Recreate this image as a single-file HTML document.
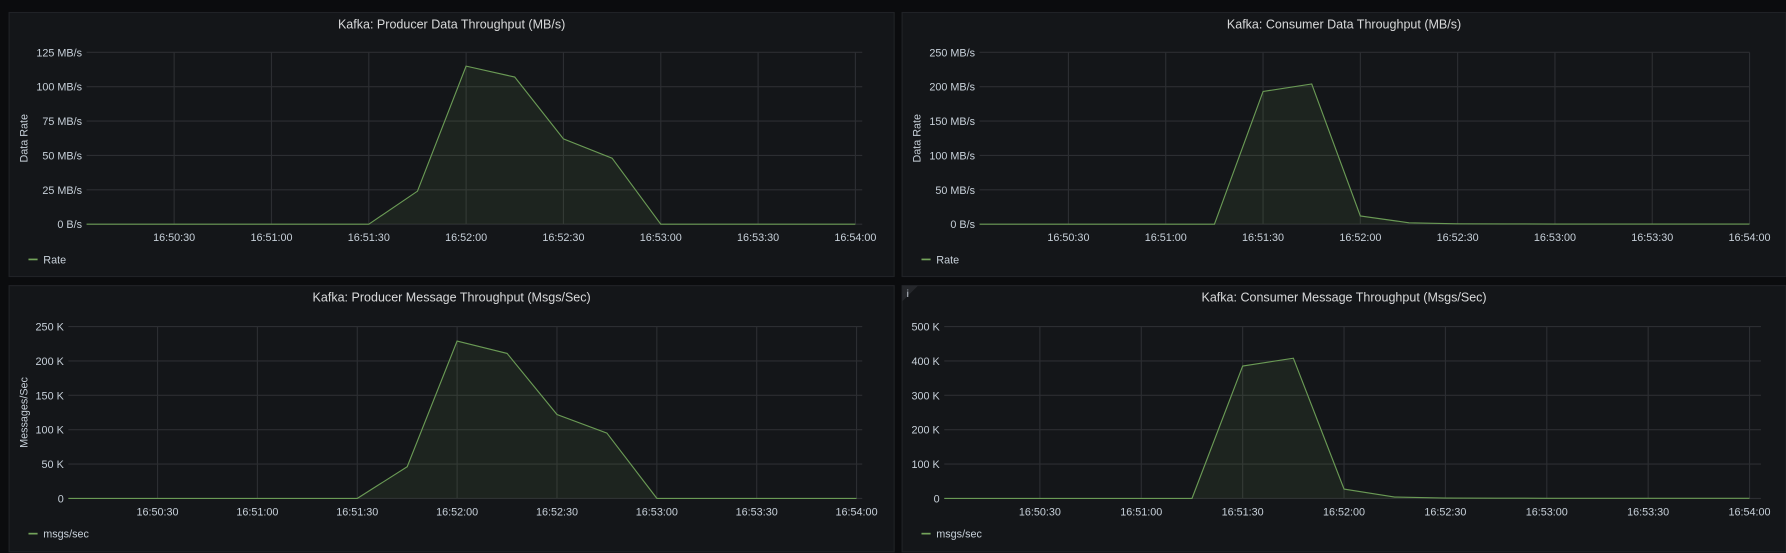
<!DOCTYPE html>
<html><head><meta charset="utf-8"><style>
html,body{margin:0;padding:0;background:#0b0c0e;}
svg{display:block;font-family:"Liberation Sans",sans-serif;}
</style></head><body>
<svg id="root" width="1786" height="553" viewBox="0 0 1568 486" preserveAspectRatio="none">
<rect x="0" y="0" width="1568" height="486" fill="#0b0c0e"/>
</svg>
<script>
const NS="http://www.w3.org/2000/svg";
const root=document.getElementById('root');
// ---- data ----
const times=[0,15,30,45,60,75,90,105,120,135,150,165,180,195,210,225,240];
const prodRate=[0,0,0,0,0,0,0,24,115,107,62,48,0,0,0,0,0];
const consRate=[0,0,0,0,0,0,193,204,12,2,0.5,0.3,0.2,0.2,0.2,0.2,0.2];
const prodMsgs=[0,0,0,0,0,0,0,46,229,211,122,95,0,0,0,0,0];
const consMsgs=[0,0,0,0,0,0,385,408,27,4,1,0.5,0.3,0.3,0.3,0.3,0.3];
const xTickTimes=[30,60,90,120,150,180,210,240];
const xTickLabels=["16:50:30","16:51:00","16:51:30","16:52:00","16:52:30","16:53:00","16:53:30","16:54:00"];
const yTicksRate1=[0,25,50,75,100,125];
const yLabelsRate1=["0 B/s","25 MB/s","50 MB/s","75 MB/s","100 MB/s","125 MB/s"];
const yTicksRate2=[0,50,100,150,200,250];
const yLabelsRate2=["0 B/s","50 MB/s","100 MB/s","150 MB/s","200 MB/s","250 MB/s"];
const yTicksMsg1=[0,50,100,150,200,250];
const yLabelsMsg1=["0","50 K","100 K","150 K","200 K","250 K"];
const yTicksMsg2=[0,100,200,300,400,500];
const yLabelsMsg2=["0","100 K","200 K","300 K","400 K","500 K"];

function el(tag,attrs,parent){const e=document.createElementNS(NS,tag);for(const k in attrs)e.setAttribute(k,attrs[k]);(parent||root).appendChild(e);return e;}

const panels=[
 {name:'producer-data-throughput',title:'Kafka: Producer Data Throughput (MB/s)',px:8,py:11,pw:777,ph:232,l:76,r:757,xr:751,xmin:3,top:46,bot:197,ymax:125,yt:yTicksRate1,yl:yLabelsRate1,vals:prodRate,axis:'Data Rate',legend:'Rate'},
 {name:'consumer-data-throughput',title:'Kafka: Consumer Data Throughput (MB/s)',px:792,py:11,pw:776,ph:232,l:860,r:1536,xr:1536,xmin:2.6,top:46,bot:197,ymax:250,yt:yTicksRate2,yl:yLabelsRate2,vals:consRate,axis:'Data Rate',legend:'Rate'},
 {name:'producer-message-throughput',title:'Kafka: Producer Message Throughput (Msgs/Sec)',px:8,py:251,pw:777,ph:234,l:60,r:757,xr:752,xmin:3.2,top:287,bot:438,ymax:250,yt:yTicksMsg1,yl:yLabelsMsg1,vals:prodMsgs,axis:'Messages/Sec',legend:'msgs/sec'},
 {name:'consumer-message-throughput',title:'Kafka: Consumer Message Throughput (Msgs/Sec)',px:792,py:251,pw:776,ph:234,l:829,r:1546,xr:1536,xmin:1.7,top:287,bot:438,ymax:500,yt:yTicksMsg2,yl:yLabelsMsg2,vals:consMsgs,axis:null,legend:'msgs/sec',info:true}
];

panels.forEach((p,i)=>{
 const g=el('g',{});
 
 
 const bg=el('rect',{x:p.px,y:p.py,width:p.pw,height:p.ph,fill:'#141619',stroke:'#202226','stroke-width':1},g);
 const t=el('text',{x:p.px+p.pw/2,y:p.py+14,'text-anchor':'middle','font-size':11,fill:'#d8d9da'},g);
 t.textContent=p.title;
 
 
 const X=s=>p.l+(s-p.xmin)/(240-p.xmin)*(p.xr-p.l);
 const Y=v=>p.bot-v/p.ymax*(p.bot-p.top);
 // y grid + labels
 p.yt.forEach((v,k)=>{
  el('line',{x1:p.l,x2:p.r,y1:Y(v),y2:Y(v),stroke:'#2c2e32','stroke-width':1},g);
  const tl=el('text',{x:p.l-4,y:Y(v)+3.5,'text-anchor':'end','font-size':9.5,fill:'#c7d0d9'},g);
  tl.textContent=p.yl[k];
  
  
 });
 xTickTimes.forEach((s,k)=>{
  el('line',{x1:X(s),x2:X(s),y1:p.top,y2:p.bot,stroke:'#2c2e32','stroke-width':1},g);
  const tl=el('text',{x:X(s),y:p.bot+15,'text-anchor':'middle','font-size':9.5,fill:'#c7d0d9'},g);
  tl.textContent=xTickLabels[k];
  
  
 });
 // clip
 const cp=el('clipPath',{id:'cp'+i},g);
 el('rect',{x:p.l,y:p.top-5,width:p.xr-p.l,height:p.bot-p.top+6},cp);
 let d='';
 times.forEach((s,k)=>{d+=(k?'L':'M')+X(s).toFixed(1)+' '+Y(p.vals[k]).toFixed(1);});
 const area=el('path',{d:d+'L'+X(240)+' '+p.bot+'L'+X(0)+' '+p.bot+'Z',fill:'rgba(115,163,90,0.1)','clip-path':'url(#cp'+i+')'},g);
 
 
 const line=el('path',{d:d,fill:'none',stroke:'#6a9a55','stroke-width':1,'clip-path':'url(#cp'+i+')'},g);
 
 
 if(p.axis){
  const cy=(p.top+p.bot)/2;
  const at=el('text',{x:p.px+16,y:cy,'text-anchor':'middle','font-size':9.5,fill:'#c7d0d9',transform:'rotate(-90 '+(p.px+16)+' '+cy+')'},g);
  at.textContent=p.axis;
  
  
 }
 const lg=el('g',{},g);
 
 
 el('line',{x1:p.px+17,x2:p.px+25,y1:p.bot+31,y2:p.bot+31,stroke:'#73a35a','stroke-width':1.5},lg);
 const lt=el('text',{x:p.px+30,y:p.bot+34.5,'font-size':9.5,fill:'#c7d0d9'},lg);
 lt.textContent=p.legend;
 if(p.info){
  const ig=el('g',{},g);
  
  
  el('path',{d:'M'+p.px+' '+p.py+'h14l-14 14z',fill:'#25272b'},ig);
  const it=el('text',{x:p.px+4,y:p.py+10,'font-size':9,fill:'#c7d0d9'},ig);
  it.textContent='i';
 }
});
</script>
</body></html>
